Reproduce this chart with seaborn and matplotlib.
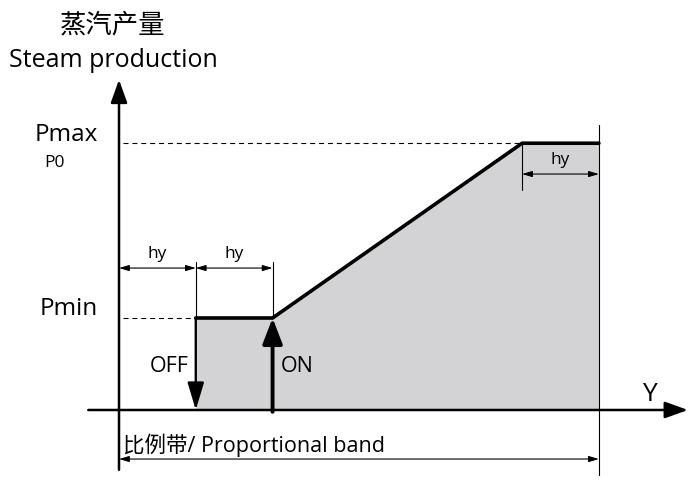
import matplotlib
matplotlib.use("Agg")
import matplotlib.pyplot as plt
import seaborn as sns

# ---- data (diagram units: x in multiples of hy, y in units of Pmin) ----
hy = 1.0
off_x = 1.0
on_x = 2.0
ramp_end_x = 5.25
band_end_x = 6.25
p_min = 1.0
p_max = 2.9

curve_x = [off_x, on_x, ramp_end_x, band_end_x]
curve_y = [p_min, p_min, p_max, p_max]

level_labels = ["Pmin", "Pmax"]
title_cn = "蒸汽产量"
title_en = "Steam production"
band_label = "比例带/ Proportional band"

sns.set_theme(style="white")
plt.rcParams['font.family'] = ['Open Sans', 'Noto Sans CJK SC', 'DejaVu Sans']
plt.rcParams['text.color'] = 'black'

fig = plt.figure(figsize=(6.91, 4.96), dpi=100)
ax = fig.add_axes([0, 0, 1, 1])
ax.set_xlim(-1.55, 7.45)
ax.set_ylim(-0.935, 4.457)
ax.axis('off')

# shaded area under the characteristic
ax.fill_between(curve_x, 0, curve_y, color='#d3d3d5', lw=0, zorder=1)

# thick characteristic line
sns.lineplot(x=curve_x, y=curve_y, sort=False, color='black', lw=2.6,
             ax=ax, zorder=4, solid_joinstyle='miter')

# axes with arrows
axis_style = dict(arrowstyle='-|>,head_length=1.0,head_width=0.36',
                  lw=1.8, color='black', mutation_scale=14,
                  shrinkA=0, shrinkB=0)
ax.annotate('', xy=(0, 3.59), xytext=(0, -0.65), arrowprops=axis_style, zorder=5)
ax.annotate('', xy=(7.41, 0), xytext=(-0.40, 0), arrowprops=axis_style, zorder=5)

# OFF (down, thinner) and ON (up, thick) switching arrows
off_style = dict(arrowstyle='-|>,head_length=1.4,head_width=0.42',
                 lw=1.7, color='black', mutation_scale=12,
                 shrinkA=0, shrinkB=0)
on_style = dict(arrowstyle='-|>,head_length=1.3,head_width=0.5',
                lw=2.8, color='black', mutation_scale=12,
                shrinkA=0, shrinkB=0)
ax.annotate('', xy=(off_x, 0.0), xytext=(off_x, p_min), arrowprops=off_style, zorder=6)
ax.annotate('', xy=(on_x, p_min), xytext=(on_x, -0.02), arrowprops=on_style, zorder=6)

# dashed level lines
ax.plot([0.05, off_x], [p_min, p_min], ls=(0, (4.5, 3.5)), color='black', lw=0.8, zorder=3)
ax.plot([0.05, ramp_end_x], [p_max, p_max], ls=(0, (4.5, 3.5)), color='black', lw=0.8, zorder=3)

# thin extension lines
thin = dict(color='black', lw=0.8, zorder=3)
ax.plot([off_x, off_x], [p_min, 1.61], **thin)
ax.plot([on_x, on_x], [p_min, 1.61], **thin)
ax.plot([ramp_end_x, ramp_end_x], [p_max, 2.39], **thin)
ax.plot([band_end_x, band_end_x], [-0.71, 3.10], **thin)

# dimension arrows
dim_style = dict(arrowstyle='<|-|>,head_length=1.0,head_width=0.3',
                 lw=0.8, color='black', mutation_scale=6,
                 shrinkA=0, shrinkB=0)
dim_y = 1.543
ax.annotate('', xy=(0, dim_y), xytext=(off_x, dim_y), arrowprops=dim_style)
ax.annotate('', xy=(off_x, dim_y), xytext=(on_x, dim_y), arrowprops=dim_style)
ax.annotate('', xy=(ramp_end_x, 2.565), xytext=(band_end_x, 2.565), arrowprops=dim_style)
ax.annotate('', xy=(0, -0.533), xytext=(band_end_x, -0.533), arrowprops=dim_style)

# texts
ax.text(0.5 * hy, dim_y + 0.07, "hy", ha='center', va='bottom', fontsize=12.5)
ax.text(1.5 * hy, dim_y + 0.07, "hy", ha='center', va='bottom', fontsize=12.5)
ax.text((ramp_end_x + band_end_x) / 2, 2.565 + 0.07, "hy", ha='center', va='bottom', fontsize=12.5)

ax.text(-0.27, p_min + 0.1, level_labels[0], ha='right', va='center', fontsize=17.5)
ax.text(-0.27, p_max + 0.09, level_labels[1], ha='right', va='center', fontsize=17.5)
ax.text(-0.97, p_max - 0.21, "P0", ha='left', va='center', fontsize=12.5)

ax.text(off_x - 0.09, 0.47, "OFF", ha='right', va='center', fontsize=15.5)
ax.text(on_x + 0.11, 0.47, "ON", ha='left', va='center', fontsize=15.5)
ax.text(6.91, 0.17, "Y", ha='center', va='center', fontsize=19)

ax.text(-0.08, 4.18, title_cn, ha='center', va='center', fontsize=19)
ax.text(-1.43, 3.80, title_en, ha='left', va='center', fontsize=18)
ax.text(0.05, -0.38, band_label, ha='left', va='center', fontsize=15.5)

fig.savefig("out.png", dpi=100)
